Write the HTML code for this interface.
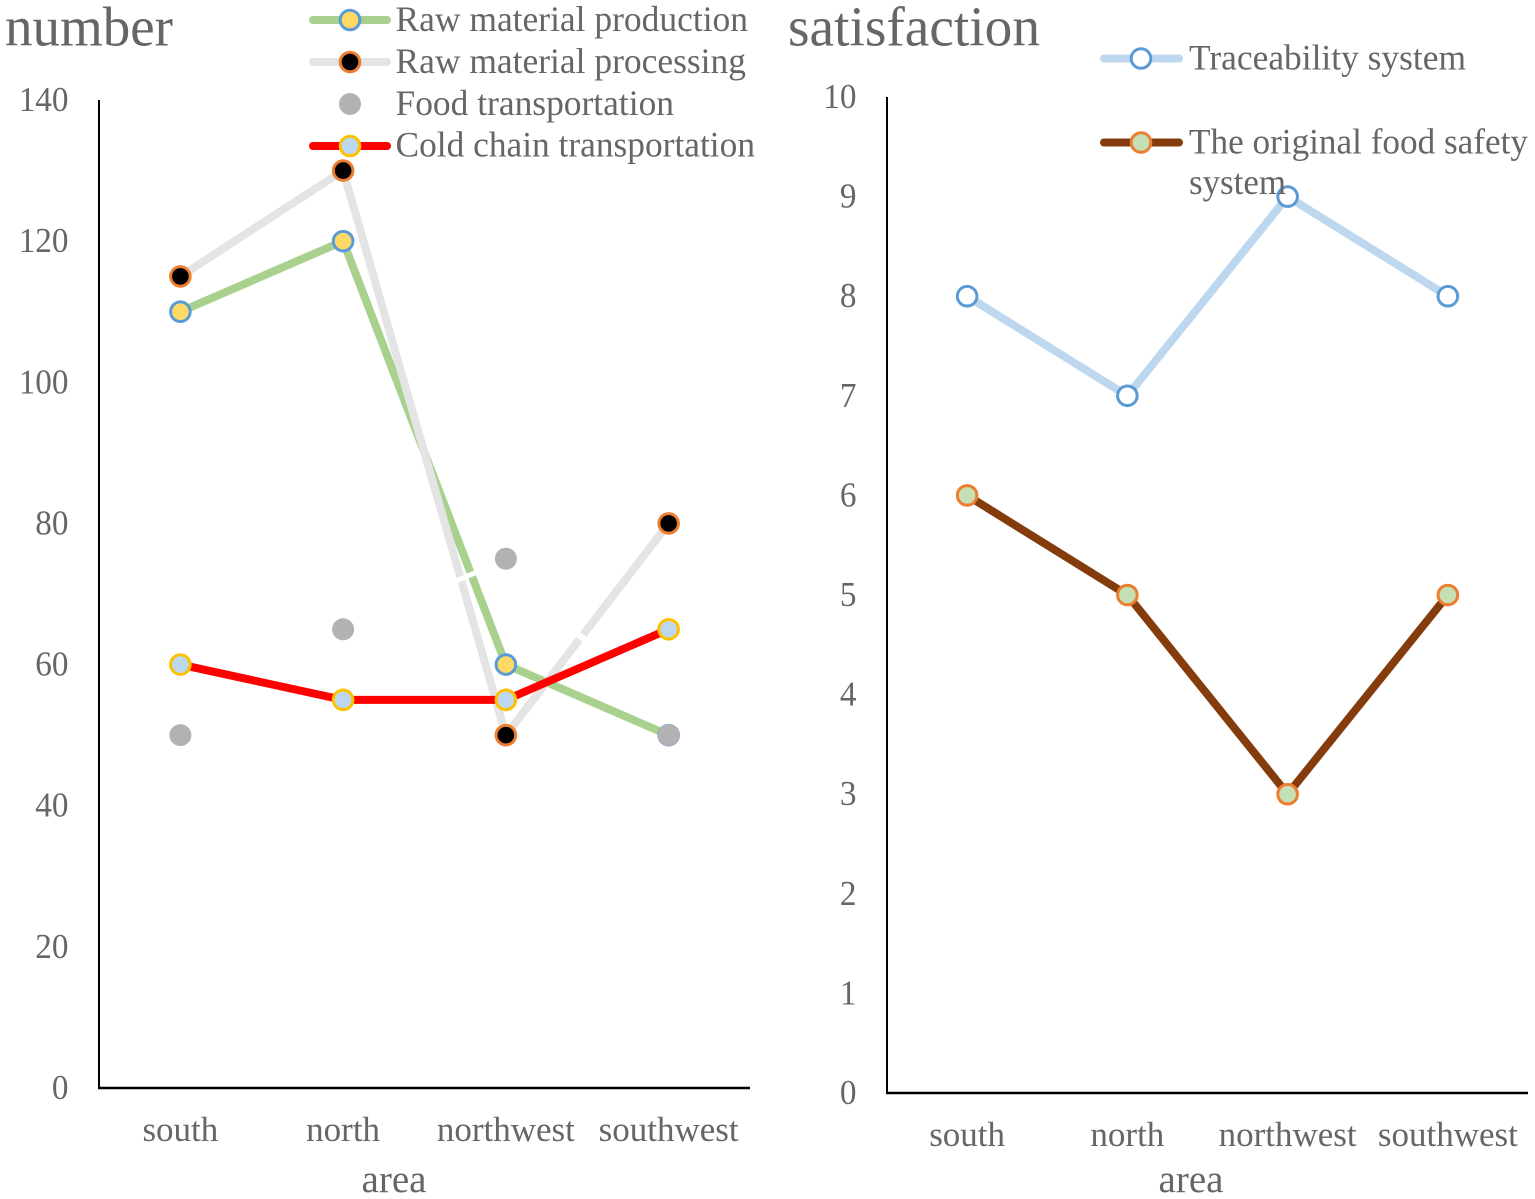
<!DOCTYPE html>
<html lang="en">
<head>
<meta charset="utf-8">
<title>Number and satisfaction by area</title>
<style>
html,body{margin:0;padding:0;background:#fff;width:1535px;height:1199px;overflow:hidden}
svg{display:block}
text{font-family:"Liberation Serif",serif;fill:#666}
.tick{font-size:35px}
.axis-title{font-size:39px}
.legend{font-size:35.5px}
.title{font-size:56px}
</style>
</head>
<body>
<svg id="root" xmlns="http://www.w3.org/2000/svg" width="1535" height="1199" viewBox="0 0 1535 1199">
  <g id="left-chart">
    <text class="title" x="5" y="45.5" textLength="168" lengthAdjust="spacingAndGlyphs">number</text>
    <text class="axis-title" x="394" y="1192" text-anchor="middle">area</text>
  </g>
  <g id="right-chart">
    <text class="title" x="788" y="45.5" textLength="252" lengthAdjust="spacingAndGlyphs">satisfaction</text>
    <text class="axis-title" x="1191" y="1192" text-anchor="middle">area</text>
  </g>
  <g id="left-legend">
    <g>
      <line x1="313" y1="20" x2="387" y2="20" stroke="#A9D18E" stroke-width="8" stroke-linecap="round"/>
      <circle cx="350" cy="20" r="9.8" fill="#FFD966" stroke="#5B9BD5" stroke-width="3"/>
      <text class="legend" x="395.5" y="31" textLength="352.5" lengthAdjust="spacingAndGlyphs">Raw material production</text>
    </g>
    <g>
      <line x1="313" y1="62" x2="387" y2="62" stroke="#E4E4E4" stroke-width="8" stroke-linecap="round"/>
      <circle cx="350" cy="62" r="9.8" fill="#000" stroke="#ED7D31" stroke-width="3"/>
      <text class="legend" x="395.5" y="73" textLength="350.5" lengthAdjust="spacingAndGlyphs">Raw material processing</text>
    </g>
    <g>
      <circle cx="350" cy="104" r="11" fill="#B2B2B4"/>
      <text class="legend" x="395.5" y="115" textLength="278.5" lengthAdjust="spacingAndGlyphs">Food transportation</text>
    </g>
    <g>
      <line x1="313" y1="146" x2="387" y2="146" stroke="#FF0000" stroke-width="8" stroke-linecap="round"/>
      <circle cx="350" cy="146" r="9.8" fill="#BDD7EE" stroke="#FFC000" stroke-width="3"/>
      <text class="legend" x="395.5" y="156.5" textLength="359.5" lengthAdjust="spacingAndGlyphs">Cold chain transportation</text>
    </g>
  </g>
  <g id="right-legend">
    <g>
      <line x1="1104" y1="58.5" x2="1179" y2="58.5" stroke="#BDD7EE" stroke-width="8" stroke-linecap="round"/>
      <circle cx="1141" cy="58.5" r="9.8" fill="#fff" stroke="#5B9BD5" stroke-width="3"/>
      <text class="legend" x="1189" y="69.5" textLength="277" lengthAdjust="spacingAndGlyphs">Traceability system</text>
    </g>
    <g>
      <line x1="1104" y1="142.5" x2="1179" y2="142.5" stroke="#843C0C" stroke-width="8" stroke-linecap="round"/>
      <circle cx="1141" cy="142.5" r="9.8" fill="#C5E0B4" stroke="#ED7D31" stroke-width="3"/>
      <text class="legend" x="1189" y="153.5" textLength="339" lengthAdjust="spacingAndGlyphs">The original food safety</text>
      <text class="legend" x="1189" y="194" textLength="97" lengthAdjust="spacingAndGlyphs">system</text>
    </g>
  </g>
</svg>
<script>
const categories = ["south", "north", "northwest", "southwest"];
const leftTicks = [0, 20, 40, 60, 80, 100, 120, 140];
const rightTicks = [0, 1, 2, 3, 4, 5, 6, 7, 8, 9, 10];
const rawProduction = [110, 120, 60, 50];
const rawProcessing = [115, 130, 50, 80];
const foodTransport = [50, 65, 75, 50];
const coldChain = [60, 55, 55, 65];
const traceability = [8, 7, 9, 8];
const originalSystem = [6, 5, 3, 5];

const NS = "http://www.w3.org/2000/svg";
function make(parent, tag, attrs, name) {
  const el = document.createElementNS(NS, tag);
  for (const k in attrs) el.setAttribute(k, attrs[k]);
  
  
  parent.appendChild(el);
  return el;
}
function makeChart(group, plot, ticks, catBaseline) {
  const yOf = v => plot.bottom - (v - ticks[0]) / (ticks[ticks.length - 1] - ticks[0]) * (plot.bottom - plot.top);
  const xOf = i => plot.left + (i + 0.5) * (plot.right - plot.left) / categories.length;
  ticks.forEach(t => {
    const el = make(group, 'text', {class: 'tick', x: plot.left - 30.5, y: yOf(t) + 11, 'text-anchor': 'end'}, 'y-tick-label');
    el.textContent = t;
    el.setAttribute('lengthAdjust', 'spacingAndGlyphs');
    el.setAttribute('textLength', String(t).length * 16.6);
  });
  categories.forEach((c, i) => {
    const el = make(group, 'text', {class: 'tick', x: xOf(i), y: catBaseline, 'text-anchor': 'middle'}, 'x-tick-label');
    el.textContent = c;
  });
  make(group, 'line', {x1: plot.left, y1: plot.top, x2: plot.left, y2: plot.bottom + 1, stroke: '#000', 'stroke-width': 2}, 'y-axis-line');
  make(group, 'line', {x1: plot.left - 1, y1: plot.bottom, x2: plot.right, y2: plot.bottom, stroke: '#000', 'stroke-width': 2.4}, 'x-axis-line');
  return {xOf, yOf};
}
function drawLine(group, axes, values, color, name) {
  const pts = values.map((v, i) => axes.xOf(i) + ',' + axes.yOf(v)).join(' ');
  make(group, 'polyline', {points: pts, fill: 'none', stroke: color, 'stroke-width': 8, 'stroke-linejoin': 'round', 'stroke-linecap': 'round'}, name);
}
function drawMarkers(group, axes, values, fill, stroke, name) {
  values.forEach((v, i) => {
    make(group, 'circle', {cx: axes.xOf(i), cy: axes.yOf(v), r: stroke ? 9.8 : 11, fill: fill, stroke: stroke || 'none', 'stroke-width': stroke ? 3 : 0}, name);
  });
}

const leftG = document.getElementById('left-chart');
const rightG = document.getElementById('right-chart');
const leftAxes = makeChart(leftG, {left: 99, right: 750, top: 100, bottom: 1088}, leftTicks, 1141);
const rightAxes = makeChart(rightG, {left: 887, right: 1528, top: 97, bottom: 1093}, rightTicks, 1146);

drawLine(leftG, leftAxes, rawProduction, '#A9D18E', 'raw-material-production-line');
drawLine(leftG, leftAxes, rawProcessing, '#E4E4E4', 'raw-material-processing-line');

/* white leader-line gaps cutting the lines, placed along the segments */
function along(values, seg, t) {
  const x0 = leftAxes.xOf(seg), y0 = leftAxes.yOf(values[seg]);
  const x1 = leftAxes.xOf(seg + 1), y1 = leftAxes.yOf(values[seg + 1]);
  return [x0 + (x1 - x0) * t, y0 + (y1 - y0) * t];
}
const gapA = along(rawProcessing, 1, 0.72);
const gapB = along(rawProcessing, 2, 0.464);
make(leftG, 'line', {x1: gapA[0] - 7, y1: gapA[1] + 5, x2: gapA[0] + 19, y2: gapA[1] - 6, stroke: '#fff', 'stroke-width': 5}, 'leader-gap');
make(leftG, 'line', {x1: gapB[0] - 7, y1: gapB[1] - 5, x2: gapB[0] + 7, y2: gapB[1] + 5, stroke: '#fff', 'stroke-width': 6}, 'leader-gap');

drawLine(leftG, leftAxes, coldChain, '#FF0000', 'cold-chain-transportation-line');
drawMarkers(leftG, leftAxes, rawProduction, '#FFD966', '#5B9BD5', 'raw-material-production-point');
drawMarkers(leftG, leftAxes, rawProcessing, '#000', '#ED7D31', 'raw-material-processing-point');
drawMarkers(leftG, leftAxes, foodTransport, '#B2B2B4', null, 'food-transportation-point');
drawMarkers(leftG, leftAxes, coldChain, '#BDD7EE', '#FFC000', 'cold-chain-transportation-point');

drawLine(rightG, rightAxes, traceability, '#BDD7EE', 'traceability-system-line');
drawLine(rightG, rightAxes, originalSystem, '#843C0C', 'original-food-safety-system-line');
drawMarkers(rightG, rightAxes, traceability, '#fff', '#5B9BD5', 'traceability-system-point');
drawMarkers(rightG, rightAxes, originalSystem, '#C5E0B4', '#ED7D31', 'original-food-safety-system-point');
</script>
</body>
</html>
